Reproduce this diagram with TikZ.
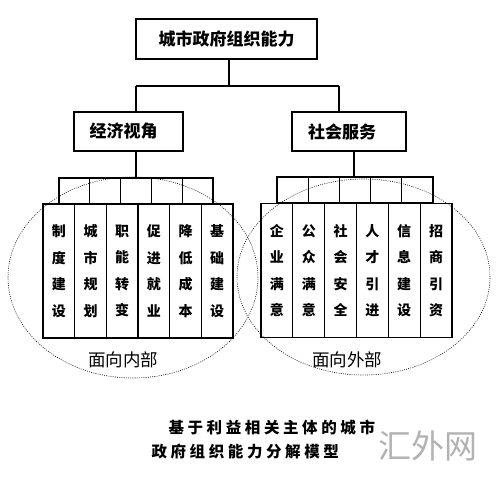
\documentclass[tikz,border=0pt]{standalone}
\usepackage{fontspec}
\newfontfamily\cjk{Noto Sans CJK SC}
\begin{document}
\begin{tikzpicture}[x=1pt,y=-1pt,
  box/.style={draw,line width=1.1pt,inner sep=0pt,font=\cjk\bfseries\fontsize{17}{20}\selectfont},
  smallbox/.style={draw,line width=1.1pt,inner sep=0pt,minimum height=26pt},
  tallbox/.style={draw,line width=1.1pt,inner sep=0pt,minimum height=134pt,align=center,
     font=\cjk\bfseries\fontsize{14}{26.5}\selectfont},
  conn/.style={line width=1.1pt},
  ring/.style={line width=0.6pt,dash pattern=on 0.9pt off 1.3pt},
  lab/.style={font=\cjk\fontsize{17.5}{20}\selectfont},
  captext/.style={font=\cjk\bfseries\fontsize{15.5}{20}\selectfont},
  wmtext/.style={font=\cjk\fontsize{33}{36}\selectfont,text=black!30}]
\useasboundingbox (0,0) rectangle (497,481);
\fill[white] (0,0) rectangle (497,481);
% top level
\node[box,minimum width=181pt,minimum height=40pt] (top) at (226.5,39) {城市政府组织能力};
\node[box,minimum width=109pt,minimum height=39pt] (lbox) at (128.5,131.5) {经济视角\hspace*{10pt}};
\node[box,minimum width=114pt,minimum height=39pt] (rbox) at (349,131.5) {社会服务\hspace*{14pt}};
% small boxes
\foreach \i in {1,...,5}{
  \node[smallbox,minimum width=30.8pt] (ls\i) at ({59+30.8*(\i-0.5)},191) {};
  \node[smallbox,minimum width=31.2pt] (rs\i) at ({277+31.2*(\i-0.5)},190) {};
}
% tall boxes
\foreach \t [count=\i] in {制\\度\\建\\设,城\\市\\规\\划,职\\能\\转\\变,促\\进\\就\\业,降\\低\\成\\本,基\\础\\建\\设}{
  \node[tallbox,minimum width=31.67pt] (lt\i) at ({43+31.67*(\i-0.5)},271) {\t};
}
\foreach \t [count=\i] in {企\\业\\满\\意,公\\众\\满\\意,社\\会\\安\\全,人\\才\\引\\进,信\\息\\建\\设,招\\商\\引\\资}{
  \node[tallbox,minimum width=31.83pt] (rt\i) at ({261+31.83*(\i-0.5)},270.5) {\t};
}
% connectors
\coordinate (tj) at (229,86);
\coordinate (jL) at (136,86);
\coordinate (jR) at (339,86);
\coordinate (kR) at (354,160);
\draw[conn] (tj |- top.south) -- (tj);
\draw[conn] (jL) -- (jR);
\draw[conn] (jL) -- (jL |- lbox.north);
\draw[conn] (jR) -- (jR |- rbox.north);
\draw[conn] (jL |- lbox.south) -- (jL |- ls3.north);
\draw[conn] (kR |- rbox.south) -- (kR |- rs3.north);
% ellipses
\draw[ring] (133,277.5) ellipse [x radius=125pt, y radius=100.5pt];
\draw[ring] (363.5,277) ellipse [x radius=126.5pt, y radius=98pt];
% labels
\node[lab] (inner) at (123,360) {面向内部};
\node[lab] (outer) at (347,360) {面向外部};
% caption
\node[captext,anchor=west] (cap1) at (165,428) {基\kern3.6pt 于\kern3.6pt 利\kern3.6pt 益\kern3.6pt 相\kern3.6pt 关\kern3.6pt 主\kern3.6pt 体\kern3.6pt 的\kern3.6pt 城\kern3.6pt 市};
\node[captext,anchor=west] (cap2) at (148,452) {政\kern3.6pt 府\kern3.6pt 组\kern3.6pt 织\kern3.6pt 能\kern3.6pt 力\kern3.6pt 分\kern3.6pt 解\kern3.6pt 模\kern3.6pt 型};
% watermark
\node[wmtext] (wm) at (428,446) {汇外网};
\end{tikzpicture}
\end{document}
